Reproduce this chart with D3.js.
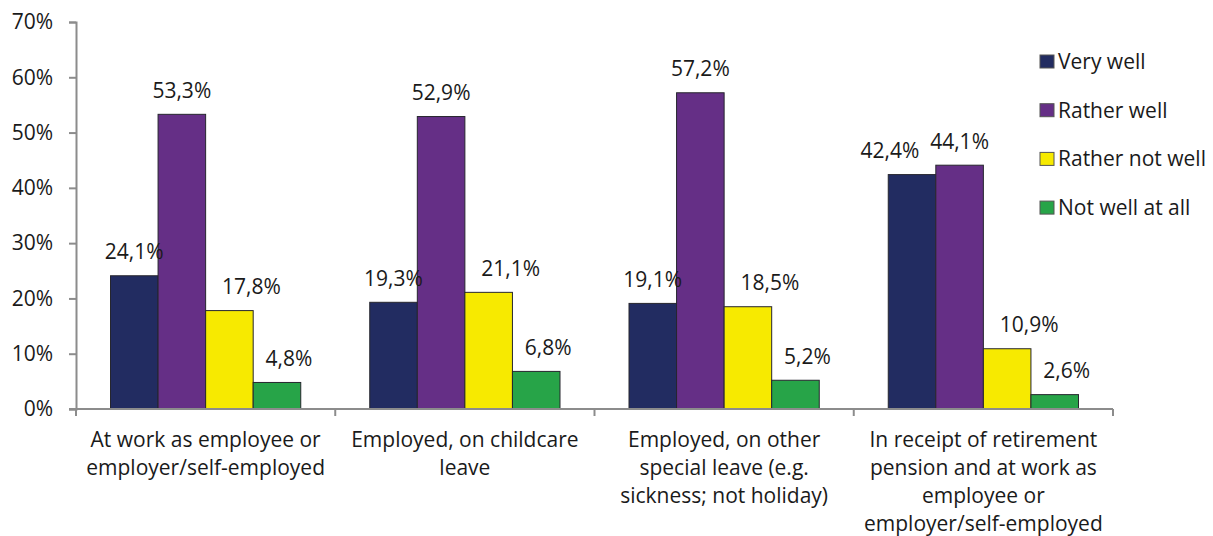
<!DOCTYPE html>
<html>
<head>
<meta charset="utf-8">
<script src="https://cdn.jsdelivr.net/npm/d3@7"></script>
<style>
  html, body { margin: 0; padding: 0; background: #fff; }
  svg text { font-family: "Open Sans", "Noto Sans", sans-serif; fill: #1a1a1a; }
</style>
</head>
<body>
<svg id="chart" width="1213" height="536"></svg>
<script>
// Employment situation categories (x axis, multi-line labels)
const categories = [
  ["At work as employee or", "employer/self-employed"],
  ["Employed, on childcare", "leave"],
  ["Employed, on other", "special leave (e.g.", "sickness; not holiday)"],
  ["In receipt of retirement", "pension and at work as", "employee or", "employer/self-employed"]
];
const seriesNames = ["Very well", "Rather well", "Rather not well", "Not well at all"];
const seriesColors = ["#222c61", "#652f86", "#f7ea00", "#27a448"];

// Share of respondents (%) per series, one value per category
const veryWell      = [24.1, 19.3, 19.1, 42.4];
const ratherWell    = [53.3, 52.9, 57.2, 44.1];
const ratherNotWell = [17.8, 21.1, 18.5, 10.9];
const notWellAtAll  = [4.8, 6.8, 5.2, 2.6];
const seriesValues = [veryWell, ratherWell, ratherNotWell, notWellAtAll];

const yTicks = [0, 10, 20, 30, 40, 50, 60, 70];

const svg = d3.select("#chart");
const plot = { left: 76, right: 1113, top: 22, bottom: 409 };
const fontSize = 21;

const x0 = d3.scaleBand().domain(d3.range(categories.length)).range([plot.left, plot.right]).padding(0);
const groupPad = 34.5;
const x1 = d3.scaleBand().domain(d3.range(seriesNames.length))
  .range([groupPad, x0.bandwidth() - groupPad]).padding(0);
const y = d3.scaleLinear().domain([0, 70]).range([plot.bottom, plot.top]);

const fmt = v => d3.format(".1f")(v).replace(".", ",") + "%";

// Bars
const groups = svg.append("g").selectAll("g")
  .data(categories.map((c, i) => i))
  .join("g")
  .attr("transform", i => `translate(${x0(i)},0)`);

groups.selectAll("rect")
  .data(i => seriesValues.map((vals, s) => ({ s, v: vals[i], c: i })))
  .join("rect")
  .attr("x", d => x1(d.s))
  .attr("y", d => y(d.v))
  .attr("width", x1.bandwidth())
  .attr("height", d => plot.bottom - y(d.v))
  .attr("fill", d => seriesColors[d.s])
  .attr("stroke", "#26262e")
  .attr("stroke-width", 1);

// Value labels above each bar; the lower series' labels sit to the right,
// and in the last group the first label moves left to clear its neighbour
const nudgeX = [0, 0, 22, 12];
const labelDx = d => (d.c === 3 && d.s === 0) ? -22 : nudgeX[d.s];
groups.selectAll("text.val")
  .data(i => seriesValues.map((vals, s) => ({ s, v: vals[i], c: i })))
  .join("text")
  .attr("class", "val")
  .attr("x", d => x1(d.s) + x1.bandwidth() / 2 + labelDx(d))
  .attr("y", d => y(d.v) - 24)
  .attr("dy", "0.35em")
  .attr("text-anchor", "middle")
  .attr("font-size", fontSize)
  .text(d => fmt(d.v));

// Y axis
const yAxis = svg.append("g").attr("transform", `translate(${plot.left},0)`)
  .call(d3.axisLeft(y).tickValues(yTicks).tickSize(7).tickPadding(16).tickFormat(d => d + "%"));
yAxis.select(".domain").attr("stroke", "#8c8c8c").attr("stroke-width", 2);
yAxis.selectAll(".tick line").attr("stroke", "#8c8c8c").attr("stroke-width", 2);
yAxis.selectAll(".tick text").attr("font-size", fontSize).attr("fill", "#1a1a1a")
  .style("font-family", '"Open Sans", "Noto Sans", sans-serif');

// X axis line with category boundary ticks
const xg = svg.append("g");
xg.append("line").attr("x1", plot.left - 7).attr("x2", plot.right)
  .attr("y1", plot.bottom).attr("y2", plot.bottom)
  .attr("stroke", "#8c8c8c").attr("stroke-width", 2);
xg.selectAll("line.tick")
  .data(d3.range(categories.length + 1))
  .join("line")
  .attr("class", "tick")
  .attr("x1", i => plot.left + i * x0.bandwidth())
  .attr("x2", i => plot.left + i * x0.bandwidth())
  .attr("y1", plot.bottom).attr("y2", plot.bottom + 7)
  .attr("stroke", "#8c8c8c").attr("stroke-width", 2);

// Category labels
const catText = svg.append("g").selectAll("text")
  .data(categories)
  .join("text")
  .attr("text-anchor", "middle")
  .attr("font-size", fontSize)
  .attr("transform", (d, i) => `translate(${x0(i) + x0.bandwidth() / 2},447)`);
catText.selectAll("tspan")
  .data(d => d)
  .join("tspan")
  .attr("x", 0)
  .attr("y", (d, j) => j * 28)
  .text(d => d);

// Legend
const legend = svg.append("g").attr("transform", "translate(1040,55)");
const items = legend.selectAll("g")
  .data(seriesNames)
  .join("g")
  .attr("transform", (d, i) => `translate(0,${i * 48.7})`);
items.append("rect")
  .attr("width", 14).attr("height", 13)
  .attr("fill", (d, i) => seriesColors[i])
  .attr("stroke", "#555").attr("stroke-width", 1);
items.append("text")
  .attr("x", 18).attr("y", 6.5).attr("dy", "0.35em")
  .attr("font-size", fontSize)
  .text(d => d);
</script>
</body>
</html>
